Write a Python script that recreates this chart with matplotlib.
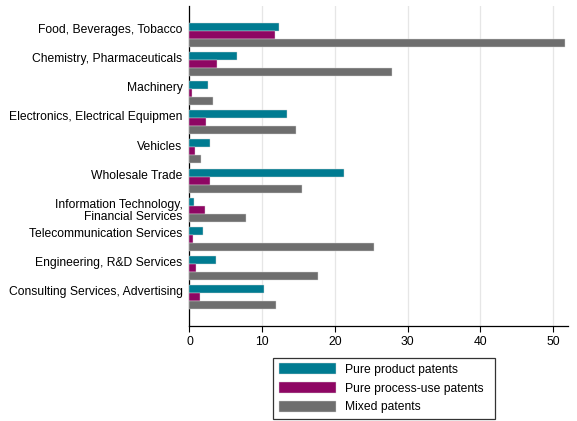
import matplotlib.pyplot as plt
import numpy as np

plt.rcParams['font.family'] = ['Liberation Sans', 'DejaVu Sans']

sectors = [
    'Food, Beverages, Tobacco',
    'Chemistry, Pharmaceuticals',
    'Machinery',
    'Electronics, Electrical Equipmen',
    'Vehicles',
    'Wholesale Trade',
    'Information Technology,\nFinancial Services',
    'Telecommunication Services',
    'Engineering, R&D Services',
    'Consulting Services, Advertising',
]
product = [12.3, 6.5, 2.6, 13.4, 2.8, 21.2, 0.6, 1.8, 3.7, 10.2]
process = [11.8, 3.8, 0.3, 2.3, 0.8, 2.8, 2.1, 0.5, 0.9, 1.45]
mixed = [51.6, 27.9, 3.3, 14.6, 1.6, 15.5, 7.7, 25.3, 17.7, 11.9]
series = ['Pure product patents', 'Pure process-use patents', 'Mixed patents']
colors = ['#007b91', '#8e0663', '#6e6e6e']

fig = plt.figure(figsize=(5.77, 4.21), dpi=100)
ax = fig.add_axes([0.3284, 0.2257, 0.6556, 0.76])

y = np.arange(len(sectors))
h = 0.274
for k, (vals, lab, c) in enumerate(zip([product, process, mixed], series, colors)):
    ax.barh(y + (k - 1) * h, vals, height=h, color=c, label=lab,
            edgecolor='#d8d8d8', linewidth=0.3, zorder=3)

ax.set_xlim(0, 52)
ax.set_ylim(len(sectors) - 0.01, -0.99)
ax.set_xticks([0, 10, 20, 30, 40, 50])
ax.xaxis.grid(True, color='#e6e6e6', linewidth=0.9, zorder=0)

# label positions sit a bit above the group centre
offs = [0.0 if '\n' in s else -0.22 for s in sectors]
ax.set_yticks(y + np.array(offs))
ax.set_yticklabels(sectors, fontsize=8.7, linespacing=1.02)
ax.tick_params(axis='y', length=0, pad=5)
ax.tick_params(axis='x', labelsize=8.7, length=4, width=0.8, pad=3)

for s in ['top', 'right']:
    ax.spines[s].set_visible(False)
for s in ['left', 'bottom']:
    ax.spines[s].set_linewidth(0.9)

leg = fig.legend(loc='lower left', bbox_to_anchor=(0.4737, 0.005, 0.384, 0.1418),
                 mode='expand', fontsize=8.7, frameon=True, fancybox=False,
                 edgecolor='black', handlelength=4.7, handleheight=1.05,
                 labelspacing=0.5, handletextpad=0.77, borderpad=0.45,
                 borderaxespad=0)
leg.get_frame().set_linewidth(0.9)

fig.savefig('out.png', dpi=100)
